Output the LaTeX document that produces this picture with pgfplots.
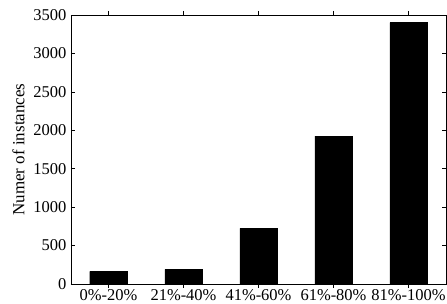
\documentclass[border=0pt]{standalone}
\usepackage{fontspec}
\setmainfont{Liberation Serif}
\usepackage{pgfplots}
\pgfplotsset{compat=1.18}
\begin{document}
\fontsize{16}{19}\selectfont
\begin{tikzpicture}
\useasboundingbox (-71pt,-20pt) rectangle (376pt,284pt);
\begin{axis}[
  at={(0,0)}, anchor=south west,
  scale only axis,
  width=375pt, height=269pt,
  xmin=-0.5, xmax=4.5,
  ymin=0, ymax=3500,
  ytick={0,500,...,3500},
  xtick=data,
  xticklabels={0\%-20\%,21\%-40\%,41\%-60\%,61\%-80\%,81\%-100\%},
  tick align=inside,
  major tick length=4pt,
  tick style={black, line width=0.6pt},
  axis line style={line width=0.8pt},
  ybar,
  bar width=0.5,
  ylabel={Numer of instances},
  ylabel style={font=\fontsize{17}{20}\selectfont, yshift=-2pt},
  tick label style={font=\fontsize{16.5}{19}\selectfont},
  /pgf/number format/assume math mode=true,
  /pgf/number format/1000 sep={},
  xticklabel style={yshift=4pt},
  yticklabel style={xshift=1pt},
]
\addplot[fill=black, draw=black, line width=0.4pt] coordinates {(0,165) (1,190) (2,725) (3,1925) (4,3400)};
\end{axis}
\end{tikzpicture}
\end{document}
